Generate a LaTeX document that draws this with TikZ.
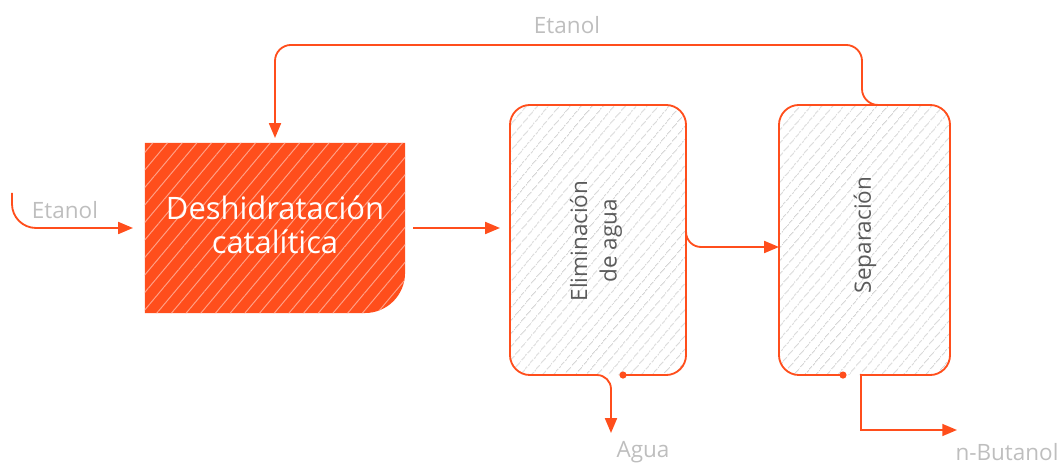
\documentclass[tikz,border=0pt]{standalone}
\usepackage{fontspec}
\setmainfont{Open Sans}
\usetikzlibrary{arrows.meta,patterns.meta,calc}

\definecolor{naranja}{RGB}{255,78,28}
\definecolor{naranjaclaro}{RGB}{255,160,135}
\definecolor{rayado}{RGB}{212,212,212}
\definecolor{grisclaro}{RGB}{190,190,190}
\definecolor{grisoscuro}{RGB}{90,90,90}

\begin{document}
\begin{tikzpicture}[x=0.025cm,y=0.025cm,
  tubo/.style={draw=naranja,line width=1.3pt},
  flecha/.style={-{Triangle[length=10.5pt,width=8.5pt]}},
  punto/.style={{Circle[length=5pt]}-{Triangle[length=10.5pt,width=8.5pt]}},
  etiqueta/.style={text=grisclaro,font=\fontsize{16}{20}\selectfont,inner sep=0pt},
  proceso/.style={minimum width=4.4cm,minimum height=6.75cm,inner sep=0pt,outer sep=0pt,
    rounded corners=0.5cm,pattern={Lines[angle=50,distance=6.5pt,line width=0.7pt]},
    pattern color=rayado},
  texto/.style={rotate=90,align=center,text=grisoscuro,font=\fontsize{16}{21}\selectfont}]

\useasboundingbox (0,0) rectangle (1063,465);

% reactor
\node[minimum width=6.5cm,minimum height=4.25cm,inner sep=0pt,outer sep=0pt] (desh) at (275,237) {};
\path[preaction={fill=naranja},pattern={Lines[angle=50,distance=8pt,line width=0.7pt]},
  pattern color=naranjaclaro]
  (desh.north west) -- (desh.north east) -- ([yshift=1cm]desh.south east)
  arc[start angle=0,end angle=-90,radius=1cm] -- (desh.south west) -- cycle;
\node[text=white,align=center,font=\fontsize{22}{24}\selectfont] (deshtxt) at (275,240)
  {Deshidratación\\catalítica};

% columnas
\node[proceso] (elim) at (598,225) {};
\node[proceso,minimum width=4.275cm] (sep) at (864.5,225) {};

\coordinate (entrada) at (12,272);
\coordinate (aguaout) at (611,32);
\coordinate (butout) at (957,35);
\coordinate (sepout) at ($(sep.south)+(-3.5,0)$);

\draw[tubo,punto,rounded corners=0.5cm]
  ($(elim.south)+(21.5,0)$) -- (elim.south east) -- (elim.north east) -- (elim.north west)
  -- (elim.south west) [rounded corners=0.35cm] -- ($(elim.south)+(13,0)$) -- (aguaout);
\draw[tubo,{Circle[length=5pt]}-,rounded corners=0.5cm]
  ($(sep.south)+(-18,0)$) -- (sep.south west) -- (sep.north west) -- (sep.north east)
  -- (sep.south east) -- (sepout);
\draw[tubo,flecha,line cap=rect] (sepout) |- (butout);

\node[texto] (elimtxt) at (596,224) {Eliminación\\de agua};
\node[texto] (septxt) at (865,230) {Separación};

% corrientes
\draw[tubo,flecha,rounded corners=0.6cm] (entrada) |- ([xshift=-0.3cm]desh.west);
\draw[tubo,flecha] ([xshift=0.2cm]desh.east) -- ([xshift=-0.25cm]desh.east -| elim.west);
\draw[tubo,flecha,rounded corners=0.375cm] ([yshift=0.3cm]elim.east)
  -- ([yshift=-0.175cm]elim.east) -- ([yshift=-0.175cm]elim.east -| sep.west);
\draw[tubo,flecha,rounded corners=0.4cm] ($(sep.north)+(16,0)$) -- ($(sep.north)+(-2.5,0)$)
  -- ++(0,60) -| ([yshift=0.125cm]desh.north);

\node[etiqueta] (etanolin) at (65,255) {Etanol};
\node[etiqueta] (etanolrec) at (567,440) {Etanol};
\node[etiqueta] (agua) at (643,13) {Agua};
\node[etiqueta] (butanol) at (1007,13) {n-Butanol};

\end{tikzpicture}
\end{document}
